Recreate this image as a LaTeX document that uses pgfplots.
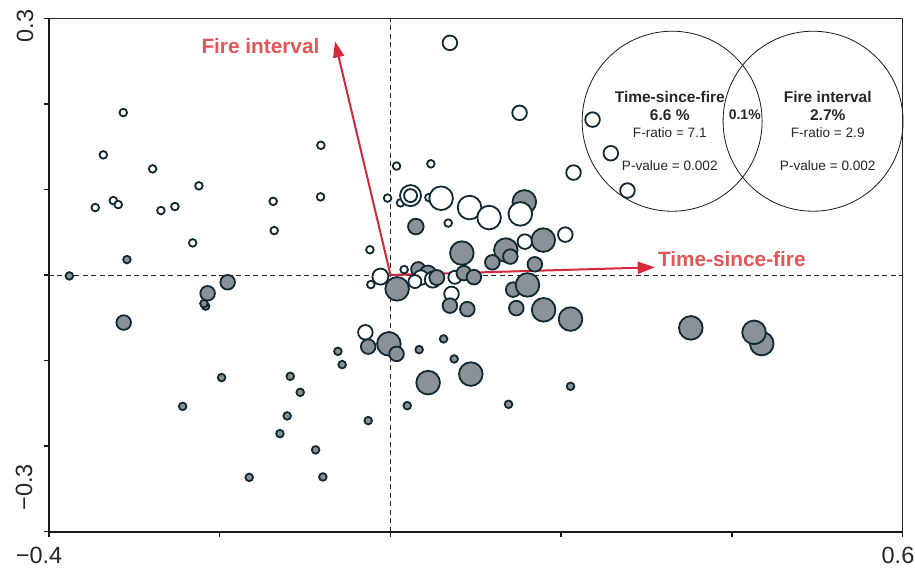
\documentclass[border=0pt]{standalone}
\usepackage{pgfplots}
\pgfplotsset{compat=1.18}
\usepackage{fontspec}
\setmainfont{Liberation Sans}
\usetikzlibrary{arrows.meta}
\definecolor{gy}{RGB}{138,145,151}
\definecolor{dk}{RGB}{16,40,50}
\definecolor{arr}{RGB}{214,40,60}
\definecolor{lab}{RGB}{226,85,88}
\begin{document}
\begin{tikzpicture}
\begin{axis}[
  width=853.7pt, height=513.4pt, scale only axis,
  xmin=-0.4, xmax=0.6, ymin=-0.3, ymax=0.3,
  xtick={-0.4,-0.2,0,0.2,0.4,0.6},
  ytick={-0.3,-0.2,-0.1,0,0.1,0.2,0.3},
  xticklabels={,,,,,,}, yticklabels={,,,,,,,},
  tick align=outside, tick pos=left,
  major tick length=5pt,
  tick style={line width=1.5pt, color=black!90},
  axis line style={line width=1.1pt, color=black!85},
  clip=false,
  scatter/use mapped color={draw=dk, fill=gy},
]
% dashed zero lines
\draw[line width=0.9pt, dash pattern=on 5pt off 3.5pt, color=black!85] (axis cs:0,-0.3) -- (axis cs:0,0.3);
\draw[line width=0.9pt, dash pattern=on 5pt off 3.5pt, color=black!85] (axis cs:-0.4,0) -- (axis cs:0.6,0);
% thick left and bottom axis lines
\draw[line width=2pt, color=black!90] (rel axis cs:0,1) -- (rel axis cs:0,0) -- (rel axis cs:1,0);
% arrows
\draw[arr, line width=2pt, -{Triangle[length=16pt,width=11pt]}] (axis cs:0,0) -- (axis cs:-0.065,0.273);
\draw[arr, line width=2pt, -{Triangle[length=17pt,width=12pt]}] (axis cs:0,0) -- (axis cs:0.3096,0.009);

% filled (back)
\addplot[scatter, only marks, mark=*, mark options={line width=1.8pt},
  visualization depends on={\thisrow{r} \as \rr},
  scatter/@pre marker code/.append style={/tikz/mark size=\rr pt}]
  table {
x y r
0.1568 0.0854 11.8
0.0324 0.0069 7
0.0438 0.0011 8.5
};
% open
\addplot[scatter, only marks, mark=*, mark options={line width=1.8pt},
  scatter/use mapped color={draw=dk, fill=white},
  visualization depends on={\thisrow{r} \as \rr},
  scatter/@pre marker code/.append style={/tikz/mark size=\rr pt}]
  table {
x y r
-0.3130 0.1898 3.8
-0.3364 0.1404 3.8
-0.2786 0.1240 3.8
-0.2244 0.1042 3.8
-0.3247 0.0870 3.8
-0.3189 0.0823 3.8
-0.3458 0.0788 3.8
-0.2689 0.0753 3.8
-0.2525 0.0800 3.8
-0.2317 0.0375 3.8
-0.1374 0.0861 3.8
-0.1362 0.0519 3.8
-0.0815 0.1516 3.8
-0.0819 0.0913 3.8
-0.0241 0.0295 3.8
-0.0034 0.0899 3.8
0.0071 0.1273 3.8
0.0473 0.1299 3.8
0.0118 0.0843 3.8
0.0235 0.0928 10.5
0.0235 0.0928 6.5
0.0450 0.0905 3.8
0.0593 0.0897 11.8
0.0676 0.0607 3.8
0.0696 0.2713 7.3
0.1512 0.1895 7.3
0.2367 0.1816 7.3
0.2581 0.1423 7.3
0.2776 0.0987 7.3
0.2144 0.1197 7.3
0.0926 0.0788 11.8
0.1155 0.0671 11.8
0.1521 0.0714 11.8
0.2048 0.0472 7.3
0.1574 0.0390 7.3
0.0160 0.0063 3.8
-0.0118 -0.0019 8
-0.0230 -0.0112 3.8
0.0754 -0.0027 6.5
0.0715 -0.0221 7.3
-0.0294 -0.0670 7.3
0.0356 -0.0030 7.3
0.0496 -0.0054 8
0.0286 -0.0077 6.5
};
% filled (front)
\addplot[scatter, only marks, mark=*, mark options={line width=1.8pt},
  visualization depends on={\thisrow{r} \as \rr},
  scatter/@pre marker code/.append style={/tikz/mark size=\rr pt}]
  table {
x y r
-0.3087 0.0180 3.8
-0.3762 -0.0011 3.8
-0.1907 -0.0085 7.3
-0.2142 -0.0214 7.3
-0.2165 -0.0364 3.8
-0.2185 -0.0334 3.8
-0.3125 -0.0556 7.3
-0.1978 -0.1199 3.8
-0.2434 -0.1535 3.8
-0.1174 -0.1184 3.8
-0.1057 -0.1371 3.8
-0.1210 -0.1647 3.8
-0.1295 -0.1854 3.8
-0.0877 -0.2044 3.8
-0.1655 -0.2365 3.8
-0.0792 -0.2360 3.8
-0.0616 -0.0892 3.8
-0.0566 -0.1047 3.8
-0.0261 -0.0837 7.3
-0.0019 -0.0805 11.8
0.0071 -0.0922 7.3
-0.0261 -0.1702 3.8
0.0196 -0.1527 3.8
0.0336 -0.0872 3.8
0.0441 -0.1258 11.8
0.0622 -0.0747 3.8
0.0746 -0.0981 3.8
0.0941 -0.1158 11.8
0.2109 -0.1301 3.8
0.1383 -0.1511 3.8
0.3518 -0.0618 11.8
0.4349 -0.0802 11.8
0.4259 -0.0670 11.8
0.1437 -0.0171 7.3
0.1605 -0.0116 11.8
0.1474 -0.0387 7.3
0.1794 -0.0407 11.8
0.2109 -0.0515 11.8
0.0900 -0.0399 7.3
0.0859 0.0022 7.3
0.0977 -0.0025 7.3
0.0696 -0.0358 7.3
0.0078 -0.0162 11.8
0.0297 0.0566 7.8
0.1790 0.0408 11.8
0.0836 0.0256 11.8
0.1351 0.0291 11.8
0.1404 0.0215 7.3
0.1193 0.0148 7.3
0.1691 0.0125 7.3
0.0543 -0.0030 7.5
};

% arrow labels
\node[lab, font=\bfseries\fontsize{20.8}{24}\selectfont] at (axis cs:-0.1523,0.2670) {Fire interval};
\node[lab, font=\bfseries\fontsize{20.8}{24}\selectfont] at (axis cs:0.3998,0.0188) {Time-since-fire};

% Venn diagram
\draw[line width=0.8pt, color=black!90] (axis cs:0.3299,0.1797) circle[radius=90pt];
\draw[line width=0.8pt, color=black!90] (axis cs:0.4950,0.1797) circle[radius=90pt];
\node[font=\bfseries\fontsize{15.5}{18}\selectfont, text=black!85] at (axis cs:0.3272,0.2085) {Time-since-fire};
\node[font=\bfseries\fontsize{15.5}{18}\selectfont, text=black!85] at (axis cs:0.3272,0.1863) {6.6 \%};
\node[font=\fontsize{13.6}{16}\selectfont, text=black!85] at (axis cs:0.3272,0.1664) {F-ratio = 7.1};
\node[font=\fontsize{13.6}{16}\selectfont, text=black!85] at (axis cs:0.3272,0.1278) {P-value = 0.002};
\node[font=\bfseries\fontsize{14}{16}\selectfont, text=black!85] at (axis cs:0.4150,0.1871) {0.1\%};
\node[font=\bfseries\fontsize{15.5}{18}\selectfont, text=black!85] at (axis cs:0.5122,0.2085) {Fire interval};
\node[font=\bfseries\fontsize{15.5}{18}\selectfont, text=black!85] at (axis cs:0.5122,0.1863) {2.7\%};
\node[font=\fontsize{13.6}{16}\selectfont, text=black!85] at (axis cs:0.5122,0.1664) {F-ratio = 2.9};
\node[font=\fontsize{13.6}{16}\selectfont, text=black!85] at (axis cs:0.5122,0.1278) {P-value = 0.002};

% tick labels (only the end values)
\node[font=\fontsize{23.5}{26}\selectfont, text=black!85] at ([xshift=-10pt,yshift=-23.3pt]axis cs:-0.4,-0.3) {−0.4};
\node[font=\fontsize{23.5}{26}\selectfont, text=black!85] at ([xshift=-4.7pt,yshift=-23.3pt]axis cs:0.6,-0.3) {0.6};
\node[font=\fontsize{23.5}{26}\selectfont, text=black!85, rotate=90] at ([xshift=-24pt,yshift=-7.7pt]axis cs:-0.4,0.3) {0.3};
\node[font=\fontsize{23.5}{26}\selectfont, text=black!85, rotate=90] at ([xshift=-25pt,yshift=44.2pt]axis cs:-0.4,-0.3) {−0.3};
\end{axis}
\pgfresetboundingbox
\path ([shift={(-49pt,-36.3pt)}]current axis.south west) rectangle ([shift={(12.3pt,18.3pt)}]current axis.north east);
\end{tikzpicture}
\end{document}
